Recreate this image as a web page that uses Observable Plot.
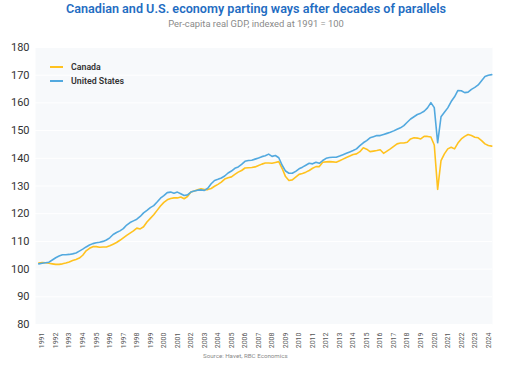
<!DOCTYPE html>
<html>
<head>
<meta charset="utf-8">
<script src="https://cdn.jsdelivr.net/npm/d3@7"></script>
<script src="https://cdn.jsdelivr.net/npm/@observablehq/plot@0.6"></script>
<style>
  html, body { margin: 0; padding: 0; background: #fff; width: 512px; height: 367px; overflow: hidden; }
  #wrap { position: relative; width: 512px; }
  .title { font-family: "Roboto", sans-serif; font-weight: 600; font-size: 12.6px; line-height: 18px; height: 18px; color: #1f6dc2; text-align: center; }
  .subtitle { font-family: "Roboto", sans-serif; font-size: 9.4px; line-height: 12px; height: 12px; color: #8a8a8a; text-align: center; }
  .caption { font-family: "Roboto", sans-serif; font-size: 6.2px; line-height: 12px; height: 12px; color: #8a8a8a; padding-left: 203px; }
  .legend { position: absolute; left: 50px; top: 60px; font-family: "Roboto", sans-serif; font-weight: 600; font-size: 8.8px; color: #333; }
  .legend div { display: flex; align-items: center; height: 14px; }
  .legend span.sw { display: inline-block; width: 13px; height: 1.6px; margin-right: 8px; }
  svg { display: block; }
</style>
</head>
<body>
<div id="wrap">
  <div class="title">Canadian and U.S. economy parting ways after decades of parallels</div>
  <div class="subtitle">Per-capita real GDP, indexed at 1991 = 100</div>
  <div id="chart"></div>
  <div class="caption">Source: Havet, RBC Economics</div>
  <div class="legend" id="legend"></div>
</div>
<script>
// First observation: 1990 Q4, quarterly thereafter (to 2024 Q2)
const firstYear = 1990;
const firstQuarter = 4;

const seriesNames = ["Canada", "United States"];
const seriesColors = ["#ffc21f", "#52a9df"];

const canada = [
  102.2,
  102.4, 102.3, 102.1, 101.9,
  101.7, 101.7, 101.9, 102.2,
  102.6, 103.1, 103.5, 104.0,
  105.0, 106.6, 107.5, 108.1,
  108.1, 107.9, 108.0, 108.0,
  108.4, 109.0, 109.6, 110.4,
  111.3, 112.2, 113.0, 113.8,
  114.8, 114.5, 115.3, 117.0,
  118.3, 119.6, 121.2, 122.8,
  124.1, 125.0, 125.5, 125.7,
  125.7, 126.0, 125.4, 126.2,
  127.8, 128.2, 128.6, 129.0,
  128.7, 128.7, 129.1, 129.9,
  130.6, 131.4, 132.5, 133.0,
  133.3, 134.2, 135.0, 135.6,
  136.5, 136.6, 136.7, 136.9,
  137.4, 137.9, 138.3, 138.3,
  138.2, 138.5, 138.8, 136.3,
  133.4, 132.0, 132.2, 133.2,
  134.2, 134.5, 135.0, 135.6,
  136.4, 137.0, 137.0, 138.6,
  138.7, 138.8, 138.7, 138.6,
  139.1, 139.7, 140.3, 140.8,
  141.4, 141.6, 142.4, 143.8,
  143.3, 142.4, 142.6, 142.8,
  143.1, 141.8, 142.6, 143.4,
  144.3, 145.2, 145.5, 145.5,
  145.8, 147.0, 147.4, 147.3,
  147.0, 147.9, 147.9, 147.7,
  144.8, 128.8, 139.2, 141.6,
  143.4, 144.0, 143.4, 145.5,
  147.0, 147.9, 148.6, 148.2,
  147.6, 147.4, 146.4, 145.2,
  144.6, 144.4
];

const unitedStates = [
  101.9,
  102.1, 102.3, 102.5, 103.3,
  104.1, 104.7, 105.2, 105.2,
  105.3, 105.5, 105.8, 106.5,
  107.2, 108.0, 108.7, 109.2,
  109.5, 109.7, 110.0, 110.5,
  111.3, 112.5, 113.2, 113.8,
  114.6, 115.9, 116.8, 117.4,
  118.0, 119.0, 120.3, 121.2,
  122.2, 122.9, 124.2, 125.6,
  126.5, 127.6, 127.8, 127.4,
  127.8, 127.2, 126.6, 126.8,
  127.8, 128.2, 128.5, 128.6,
  128.4, 129.2, 130.8, 132.0,
  132.4, 132.9, 133.6, 134.7,
  135.4, 136.4, 136.9, 137.8,
  138.9, 139.2, 139.3, 139.7,
  140.1, 140.6, 140.9, 141.5,
  140.7, 141.0, 140.2, 137.5,
  135.4, 134.6, 134.6, 135.3,
  136.2, 136.8, 137.5, 138.2,
  138.0, 138.6, 138.2, 139.2,
  140.0, 140.3, 140.4, 140.4,
  140.8, 141.3, 141.8, 142.3,
  142.8, 143.4, 144.6, 145.6,
  146.4, 147.4, 147.8, 148.2,
  148.2, 148.6, 149.0, 149.4,
  149.9, 150.5, 151.0, 151.8,
  153.0, 154.2, 155.0, 155.8,
  156.3, 157.0, 158.2, 160.1,
  158.3, 145.6, 155.0, 156.6,
  158.2, 160.5, 162.2, 164.5,
  164.4, 163.7, 163.9, 164.9,
  165.6, 166.5, 168.0, 169.5,
  170.0, 170.2
];

const yearTicks = d3.range(1991, 2025);
const yTicks = [80, 90, 100, 110, 120, 130, 140, 150, 160, 170, 180];

const t0 = firstYear + (firstQuarter - 1) / 4;
const rows = [];
[canada, unitedStates].forEach((vals, k) => {
  vals.forEach((v, i) => rows.push({t: t0 + i / 4, value: v, series: seriesNames[k]}));
});

const chart = Plot.plot({
  width: 512,
  height: 320,
  marginLeft: 35,
  marginRight: 20,
  marginTop: 17,
  marginBottom: 26,
  style: {fontFamily: "Roboto, sans-serif", background: "transparent", overflow: "visible"},
  x: {type: "linear", domain: [1990.506, 2024.307]},
  y: {domain: [80, 180]},
  color: {domain: seriesNames, range: seriesColors},
  marks: [
    Plot.frame({fill: "#f7f9fb", stroke: null}),
    Plot.gridY(yTicks, {stroke: "#ffffff", strokeOpacity: 1, strokeWidth: 1}),
    Plot.axisY(yTicks, {tickSize: 0, tickPadding: 6, fontSize: 11, color: "#333", label: null}),
    Plot.axisX(yearTicks, {tickSize: 0, tickPadding: 8, tickRotate: -90, fontSize: 7, color: "#555", tickFormat: d => String(d), label: null}),
    Plot.line(rows, {x: "t", y: "value", z: "series", stroke: "series", strokeWidth: 1.6, curve: "linear"})
  ]
});
document.getElementById("chart").appendChild(chart);

const leg = document.getElementById("legend");
seriesNames.forEach((n, i) => {
  const row = document.createElement("div");
  row.innerHTML = `<span class="sw" style="background:${seriesColors[i]}"></span>${n}`;
  leg.appendChild(row);
});
</script>
</body>
</html>
